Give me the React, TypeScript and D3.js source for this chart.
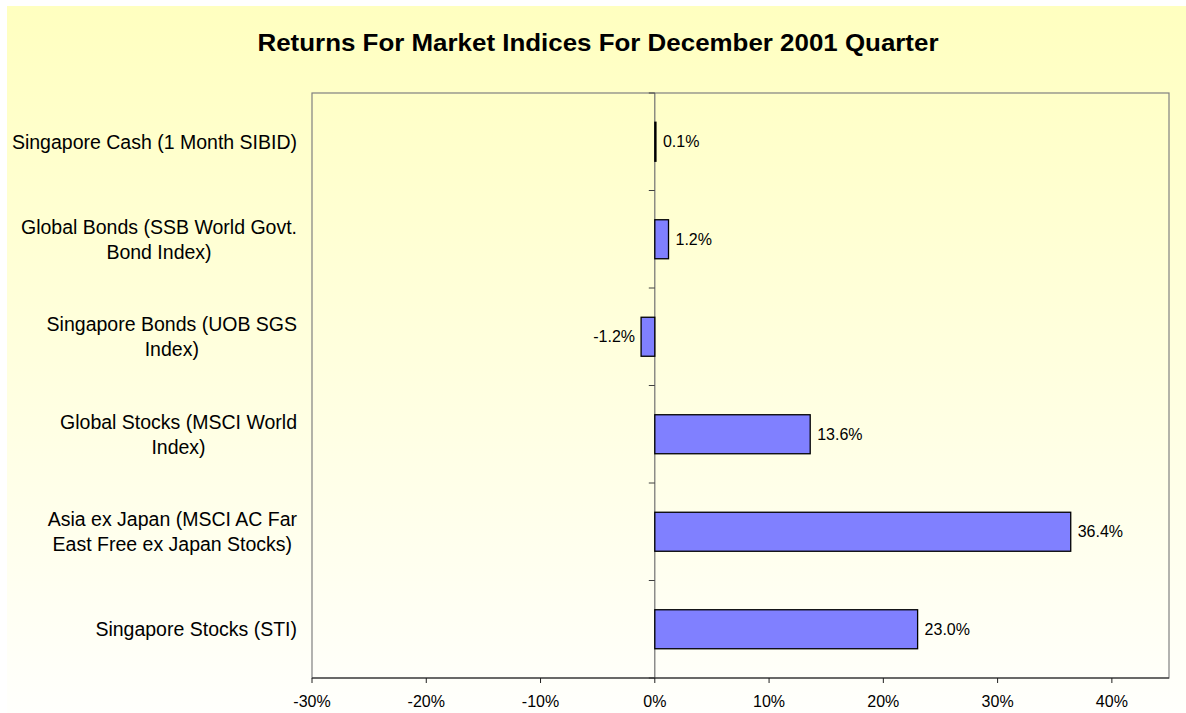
import React, { useEffect, useRef } from "react";
import * as d3 from "d3";

const categories = [
  "Singapore Cash (1 Month SIBID)",
  "Global Bonds (SSB World Govt.\nBond Index)",
  "Singapore Bonds (UOB SGS\nIndex)",
  "Global Stocks (MSCI World\nIndex)",
  "Asia ex Japan (MSCI AC Far\nEast Free ex Japan Stocks)",
  "Singapore Stocks (STI)",
];
const values = [0.1, 1.2, -1.2, 13.6, 36.4, 23.0];
const xTicks = [-30, -20, -10, 0, 10, 20, 30, 40];
const xDomain = [-30, 45];
const title = "Returns For Market Indices For December 2001 Quarter";

const W = 1186;
const H = 713;
const FONT = "'Liberation Sans', Arial, Helvetica, sans-serif";

export default function App() {
  const ref = useRef<SVGSVGElement>(null);

  useEffect(() => {
    const svg = d3.select(ref.current);
    svg.selectAll("*").remove();

    const left = 312, right = 1169, top = 93, bottom = 678;

    const defs = svg.append("defs");
    const grad = defs.append("linearGradient").attr("id", "bg").attr("x1", 0).attr("y1", 0).attr("x2", 0).attr("y2", 1);
    grad.append("stop").attr("offset", "0%").attr("stop-color", "#FFFFC0");
    grad.append("stop").attr("offset", "100%").attr("stop-color", "#FFFFFC");

    svg.append("rect").attr("x", 7).attr("y", 6).attr("width", W - 7).attr("height", H - 6).attr("fill", "url(#bg)");

    svg.append("text")
      .attr("x", 598).attr("y", 51)
      .attr("text-anchor", "middle")
      .attr("font-family", FONT).attr("font-weight", "bold").attr("font-size", 24.5)
      .attr("textLength", 681).attr("lengthAdjust", "spacingAndGlyphs")
      .attr("fill", "#000")
      .text(title);

    const x = d3.scaleLinear().domain(xDomain).range([left, right]);
    const y = d3.scaleBand<string>().domain(categories).range([top, bottom]).paddingInner(0.6).paddingOuter(0.3);
    const step = y.step();

    // plot border
    svg.append("rect").attr("x", left).attr("y", top).attr("width", right - left).attr("height", bottom - top)
      .attr("fill", "none").attr("stroke", "#808080").attr("stroke-width", 1.2);

    // zero (category) axis
    const x0 = x(0);
    svg.append("line").attr("x1", x0).attr("x2", x0).attr("y1", top).attr("y2", bottom)
      .attr("stroke", "#707070").attr("stroke-width", 1.2);
    for (let k = 0; k <= categories.length; k++) {
      const yy = top + k * step;
      svg.append("line").attr("x1", x0 - 6).attr("x2", x0).attr("y1", yy).attr("y2", yy)
        .attr("stroke", "#404040").attr("stroke-width", 1);
    }

    // x axis
    svg.append("line").attr("x1", left).attr("x2", right).attr("y1", bottom).attr("y2", bottom)
      .attr("stroke", "#202020").attr("stroke-width", 1.2);
    xTicks.forEach((t) => {
      svg.append("line").attr("x1", x(t)).attr("x2", x(t)).attr("y1", bottom).attr("y2", bottom + 5)
        .attr("stroke", "#202020").attr("stroke-width", 1);
      svg.append("text").attr("x", x(t)).attr("y", 707).attr("text-anchor", "middle")
        .attr("font-family", FONT).attr("font-size", 16).attr("fill", "#000")
        .text(`${t}%`);
    });

    // bars
    categories.forEach((c, i) => {
      const v = values[i];
      const y0 = y(c)!;
      const bx = Math.min(x(0), x(v));
      const bw = Math.abs(x(v) - x(0));
      svg.append("rect").attr("x", bx).attr("y", y0).attr("width", bw).attr("height", y.bandwidth())
        .attr("fill", "#8080FF").attr("stroke", "#000").attr("stroke-width", 1.3);
      const cy = y0 + y.bandwidth() / 2;
      svg.append("text")
        .attr("x", v >= 0 ? x(v) + 7 : x(v) - 6)
        .attr("y", cy + 5.6)
        .attr("text-anchor", v >= 0 ? "start" : "end")
        .attr("font-family", FONT).attr("font-size", 16).attr("fill", "#000")
        .text(`${v.toFixed(1)}%`);
    });

    // category labels
    const labelRight = 297;
    const lineH = 25;
    const capH = 14;
    categories.forEach((c) => {
      const lines = c.split("\n");
      const cy = y(c)! + y.bandwidth() / 2;
      const g = svg.append("g");
      const texts = lines.map((ln, j) =>
        g.append("text")
          .attr("y", cy + capH / 2 + (j - (lines.length - 1) / 2) * lineH)
          .attr("text-anchor", "middle")
          .attr("font-family", FONT).attr("font-size", 19.5).attr("fill", "#000")
          .text(ln)
      );
      const widths = texts.map((t) => (t.node() as SVGTextElement).getComputedTextLength());
      const maxW = d3.max(widths) || 0;
      texts.forEach((t) => t.attr("x", labelRight - maxW / 2));
    });
  }, []);

  return (
    <svg ref={ref} width={W} height={H} style={{ position: "absolute", left: 0, top: 0, display: "block" }} />
  );
}
